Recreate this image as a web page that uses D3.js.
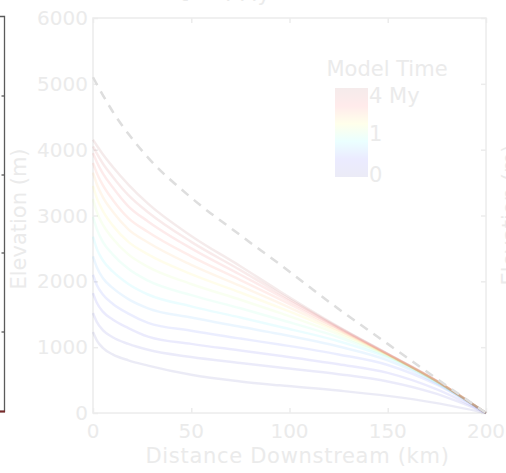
<!DOCTYPE html>
<html>
<head>
<meta charset="utf-8">
<script src="https://cdn.jsdelivr.net/npm/d3@7"></script>
<style>
  body { margin: 0; background: #fff; }
  svg { display: block; font-family: "DejaVu Sans", sans-serif; }
  .lbl { fill: #ebebeb; }
</style>
</head>
<body>
<div id="chart"></div>
<script>
// distance downstream (km) where the profiles were sampled
const distance = [0, 2, 5, 10, 18, 28, 50, 75, 95, 125, 150, 175, 200];

// river profiles, oldest (0) to youngest (4 My), elevation in m
const profiles = [
  [1230, 1100, 990, 890, 800, 720, 580, 480, 420, 340, 260, 150, 0],
  [1520, 1380, 1260, 1150, 1050, 960, 850, 760, 690, 590, 480, 290, 0],
  [1820, 1670, 1540, 1420, 1290, 1160, 1050, 950, 870, 740, 610, 360, 0],
  [2100, 1940, 1800, 1660, 1510, 1370, 1250, 1130, 1040, 890, 730, 430, 0],
  [2380, 2210, 2050, 1900, 1730, 1590, 1450, 1310, 1200, 1010, 800, 450, 0],
  [2680, 2490, 2320, 2150, 1960, 1800, 1620, 1450, 1310, 1090, 840, 465, 0],
  [2980, 2790, 2600, 2410, 2190, 2010, 1790, 1590, 1420, 1150, 860, 472, 0],
  [3250, 3050, 2860, 2650, 2410, 2220, 1960, 1720, 1520, 1195, 872, 476, 0],
  [3450, 3260, 3070, 2850, 2600, 2410, 2110, 1830, 1600, 1230, 880, 479, 0],
  [3650, 3470, 3280, 3060, 2790, 2590, 2250, 1930, 1670, 1255, 885, 481, 0],
  [3800, 3640, 3460, 3240, 2960, 2750, 2380, 2020, 1730, 1275, 890, 483, 0],
  [3950, 3810, 3640, 3430, 3140, 2910, 2500, 2100, 1780, 1290, 894, 485, 0],
  [4050, 3940, 3790, 3590, 3310, 3050, 2600, 2170, 1815, 1300, 897, 486, 0],
  [4150, 4060, 3930, 3740, 3470, 3180, 2690, 2230, 1850, 1310, 900, 488, 0]
];

// steady-state profile (dashed)
const steady = [5100, 4990, 4830, 4580, 4240, 3880, 3270, 2700, 2260, 1580, 1050, 520, 0];

const xTicks = [0, 50, 100, 150, 200];
const yTicks = [0, 1000, 2000, 3000, 4000, 5000, 6000];
const timeTicks = [0, 1, 4];
const timeLabels = ["0", "1", "4 My"];

const width = 506, height = 473;
const padL = 93, padR = 486, padT = 18, padB = 413;

const svg = d3.select("#chart").append("svg")
  .attr("width", width)
  .attr("height", height);

const xScale = d3.scaleLinear().domain([0, 200]).range([padL, padR]);
const yScale = d3.scaleLinear().domain([0, 6000]).range([padB, padT]);

// jet-like colour map, drawn very faded
const jet = ["#00008f", "#0000ff", "#00ffff", "#ffff00", "#ff0000", "#800000"];
const colour = d3.scaleLinear()
  .domain(d3.range(jet.length).map(i => i / (jet.length - 1)))
  .range(jet);

// neighbouring panel's right edge
const nb = svg.append("g").attr("stroke", "#5a5a5a").attr("fill", "none");
nb.append("path").attr("d", `M0,16.5 H4.5 V411.5 H0`).attr("stroke-width", 1.3);
[96, 175, 253, 332].forEach(y =>
  nb.append("path").attr("d", `M1.5,${y} H4.5`).attr("stroke-width", 1.3));
svg.append("path").attr("d", "M0,411.5 H5").attr("stroke", "#7a2a2a").attr("stroke-width", 2);

// title, cut off at the top
svg.append("text").attr("class", "lbl")
  .attr("x", 225).attr("y", 1)
  .attr("text-anchor", "middle")
  .attr("font-size", 21)
  .text("t = 4 My");

// axes box
const boxColour = "#ececec";
svg.append("rect")
  .attr("x", padL).attr("y", padT)
  .attr("width", padR - padL).attr("height", padB - padT)
  .attr("fill", "none").attr("stroke", boxColour).attr("stroke-width", 1.5);

const xAxisB = d3.axisBottom(xScale).tickValues(xTicks).tickSize(-5).tickFormat("");
const xAxisT = d3.axisTop(xScale).tickValues(xTicks).tickSize(-5).tickFormat("");
const yAxisL = d3.axisLeft(yScale).tickValues(yTicks).tickSize(-5).tickFormat("");
const yAxisR = d3.axisRight(yScale).tickValues(yTicks).tickSize(-5).tickFormat("");

[[xAxisB, `translate(0,${padB})`], [xAxisT, `translate(0,${padT})`],
 [yAxisL, `translate(${padL},0)`], [yAxisR, `translate(${padR},0)`]]
  .forEach(([ax, tr]) => {
    const g = svg.append("g").attr("transform", tr).call(ax);
    g.select(".domain").remove();
    g.selectAll("line").attr("stroke", boxColour).attr("stroke-width", 1.5);
  });

// tick labels
svg.selectAll(".xt").data(xTicks).enter()
  .append("text").attr("class", "lbl")
  .attr("x", d => xScale(d)).attr("y", 438)
  .attr("text-anchor", "middle").attr("font-size", 20)
  .text(d => d);

svg.selectAll(".yt").data(yTicks).enter()
  .append("text").attr("class", "lbl")
  .attr("x", 88).attr("y", d => yScale(d) + 7)
  .attr("text-anchor", "end").attr("font-size", 20)
  .text(d => d);

svg.append("text").attr("class", "lbl")
  .attr("x", (padL + padR) / 2 + 8).attr("y", 463)
  .attr("text-anchor", "middle").attr("font-size", 21)
  .attr("letter-spacing", 0.7)
  .text("Distance Downstream (km)");

svg.append("text").attr("class", "lbl")
  .attr("transform", `translate(26,219) rotate(-90)`)
  .attr("text-anchor", "middle").attr("font-size", 21)
  .text("Elevation (m)");

svg.append("text").attr("class", "lbl")
  .attr("transform", `translate(517,215) rotate(-90)`)
  .attr("text-anchor", "middle").attr("font-size", 21)
  .text("Elevation (m)");

// profiles
const line = d3.line()
  .x((d, i) => xScale(distance[i]))
  .y(d => yScale(d))
  .curve(d3.curveMonotoneX);

svg.append("g").selectAll("path")
  .data(profiles).enter()
  .append("path")
  .attr("d", line)
  .attr("fill", "none")
  .attr("stroke", (d, i) => colour(i / (profiles.length - 1)))
  .attr("stroke-opacity", 0.08)
  .attr("stroke-width", 2.5);

svg.append("path")
  .attr("d", line(steady))
  .attr("fill", "none")
  .attr("stroke", "#dedede")
  .attr("stroke-width", 2.5)
  .attr("stroke-dasharray", "9,7");

// colour bar (sqrt time scale)
const cbX = 335, cbW = 33;
const tScale = d3.scaleSqrt().domain([0, 4]).range([177, 88]);

const grad = svg.append("defs").append("linearGradient")
  .attr("id", "cbgrad").attr("x1", 0).attr("y1", 1).attr("x2", 0).attr("y2", 0);
jet.forEach((c, i) => grad.append("stop")
  .attr("offset", i / (jet.length - 1))
  .attr("stop-color", c));

svg.append("rect")
  .attr("x", cbX).attr("y", tScale(4))
  .attr("width", cbW).attr("height", tScale(0) - tScale(4))
  .attr("fill", "url(#cbgrad)").attr("opacity", 0.08);

svg.selectAll(".cb").data(timeTicks).enter()
  .append("text").attr("class", "lbl")
  .attr("x", cbX + cbW + 1)
  .attr("y", (d, i) => tScale(d) + (i == 0 ? 5 : i == 1 ? 8 : 15))
  .attr("font-size", 21)
  .text((d, i) => timeLabels[i]);

svg.append("text").attr("class", "lbl")
  .attr("x", 387).attr("y", 76)
  .attr("text-anchor", "middle").attr("font-size", 21)
  .text("Model Time");
</script>
</body>
</html>
